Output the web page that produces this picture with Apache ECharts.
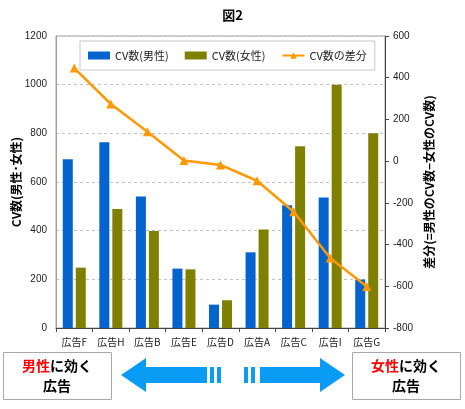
<!DOCTYPE html>
<html><head><meta charset="utf-8">
<script src="https://cdn.jsdelivr.net/npm/echarts@6/dist/echarts.min.js"></script>
<style>html,body{margin:0;padding:0;background:#fff}#c{width:465px;height:409px}</style>
</head><body><div id="c"></div>
<script>
const categories = ['広告F','広告H','広告B','広告E','広告D','広告A','広告C','広告I','広告G'];
const maleCV = [693, 763, 540, 244, 96, 311, 504, 536, 199];
const femaleCV = [248, 489, 399, 241, 114, 405, 747, 1000, 800];
const diffCV = [446, 274, 141, 3, -18, -94, -243, -464, -601];
const leftTicks = {min: 0, max: 1200, interval: 200};
const rightTicks = {min: -800, max: 600, interval: 200};

const FONT = '"Noto Sans CJK JP", "Liberation Sans", sans-serif';
const chart = echarts.init(document.getElementById('c'), null, {renderer: 'canvas'});
const arrowColor = '#0a9bf5';

chart.setOption({
  animation: false,
  textStyle: {fontFamily: FONT},
  title: {text: '図2', left: 'center', top: 4, textStyle: {fontSize: 13, fontWeight: 'bold', color: '#000', fontFamily: FONT}},
  grid: {left: 56, right: 80, top: 36, bottom: 81, show: true, borderColor: '#a0a0a0', borderWidth: 1,
    containLabel: false, outerBoundsMode: 'none'},
  legend: {
    left: 80, top: 41, width: 285, height: 30,
    backgroundColor: '#fff', borderColor: '#c8c8c8', borderWidth: 1,
    padding: [9, 8, 9, 8], itemGap: 16, itemWidth: 22, itemHeight: 8,
    textStyle: {fontSize: 11, color: '#222', fontFamily: FONT},
    data: [
      {name: 'CV数(男性)', icon: 'rect'},
      {name: 'CV数(女性)', icon: 'rect'},
      {name: 'CV数の差分'}
    ]
  },
  xAxis: {
    type: 'category', data: categories,
    axisLine: {lineStyle: {color: '#444'}},
    axisTick: {show: true, alignWithLabel: false, length: 4, lineStyle: {color: '#444'}},
    axisLabel: {fontSize: 10, color: '#222', margin: 9, interval: 0, fontFamily: FONT}
  },
  yAxis: [
    {
      type: 'value', min: leftTicks.min, max: leftTicks.max, interval: leftTicks.interval,
      name: 'CV数(男性･女性)', nameLocation: 'middle', nameGap: 34, nameRotate: 90, nameMoveOverlap: false,
      nameTextStyle: {fontSize: 12, fontWeight: 'bold', color: '#000', fontFamily: FONT},
      axisLine: {show: true, lineStyle: {color: '#a0a0a0'}},
      axisTick: {show: false},
      axisLabel: {fontSize: 10, color: '#222', margin: 9, formatter: v => String(v), fontFamily: '"Liberation Sans", sans-serif'},
      splitLine: {show: true, lineStyle: {color: '#c0c0c0', type: [3, 3]}}
    },
    {
      type: 'value', min: rightTicks.min, max: rightTicks.max, interval: rightTicks.interval,
      position: 'right',
      name: '差分(=男性のCV数−女性のCV数)', nameLocation: 'middle', nameGap: 38, nameRotate: 90, nameMoveOverlap: false,
      nameTextStyle: {fontSize: 12, fontWeight: 'bold', color: '#000', fontFamily: FONT},
      axisLine: {show: true, lineStyle: {color: '#444'}},
      axisTick: {show: true, length: 4, inside: false, lineStyle: {color: '#444'}},
      axisLabel: {fontSize: 10, color: '#222', margin: 8, formatter: v => String(v), fontFamily: '"Liberation Sans", sans-serif'},
      splitLine: {show: false}
    }
  ],
  series: [
    {
      name: 'CV数(男性)', type: 'bar', data: maleCV, barWidth: 10, barGap: '30%',
      itemStyle: {color: '#0563cd'}
    },
    {
      name: 'CV数(女性)', type: 'bar', data: femaleCV, barWidth: 10,
      itemStyle: {color: '#808000'}
    },
    {
      name: 'CV数の差分', type: 'line', yAxisIndex: 1, data: diffCV,
      symbol: 'triangle', symbolSize: 9,
      lineStyle: {color: '#ff9900', width: 2.5},
      itemStyle: {color: '#ff9900'}, z: 5
    }
  ],
  graphic: [
    {type: 'rect', shape: {x: 3.5, y: 352.5, width: 108, height: 47}, style: {fill: '#fff', stroke: '#a8a8a8', lineWidth: 1}},
    {type: 'rect', shape: {x: 352.5, y: 352.5, width: 108, height: 47}, style: {fill: '#fff', stroke: '#a8a8a8', lineWidth: 1}},
    {type: 'text', x: 57, y: 366, style: {text: '{r|男性}{k|に効く}', align: 'center', verticalAlign: 'middle',
      rich: {r: {fill: '#ff0000', fontSize: 14, fontWeight: 'bold', fontFamily: FONT}, k: {fill: '#000', fontSize: 14, fontWeight: 'bold', fontFamily: FONT}}}},
    {type: 'text', x: 57, y: 386, style: {text: '広告', align: 'center', verticalAlign: 'middle', fill: '#000', fontSize: 14, fontWeight: 'bold', fontFamily: FONT}},
    {type: 'text', x: 406, y: 366, style: {text: '{r|女性}{k|に効く}', align: 'center', verticalAlign: 'middle',
      rich: {r: {fill: '#ff0000', fontSize: 14, fontWeight: 'bold', fontFamily: FONT}, k: {fill: '#000', fontSize: 14, fontWeight: 'bold', fontFamily: FONT}}}},
    {type: 'text', x: 406, y: 386, style: {text: '広告', align: 'center', verticalAlign: 'middle', fill: '#000', fontSize: 14, fontWeight: 'bold', fontFamily: FONT}},
    {type: 'polygon', shape: {points: [[121, 375], [146, 358], [146, 367], [207, 367], [207, 383], [146, 383], [146, 392]]}, style: {fill: arrowColor}},
    {type: 'rect', shape: {x: 210, y: 367, width: 4, height: 16}, style: {fill: arrowColor}},
    {type: 'rect', shape: {x: 217, y: 367, width: 4, height: 16}, style: {fill: arrowColor}},
    {type: 'polygon', shape: {points: [[345, 375], [320, 358], [320, 367], [260, 367], [260, 383], [320, 383], [320, 392]]}, style: {fill: arrowColor}},
    {type: 'rect', shape: {x: 244, y: 367, width: 4, height: 16}, style: {fill: arrowColor}},
    {type: 'rect', shape: {x: 251, y: 367, width: 4, height: 16}, style: {fill: arrowColor}}
  ]
});
</script></body></html>
